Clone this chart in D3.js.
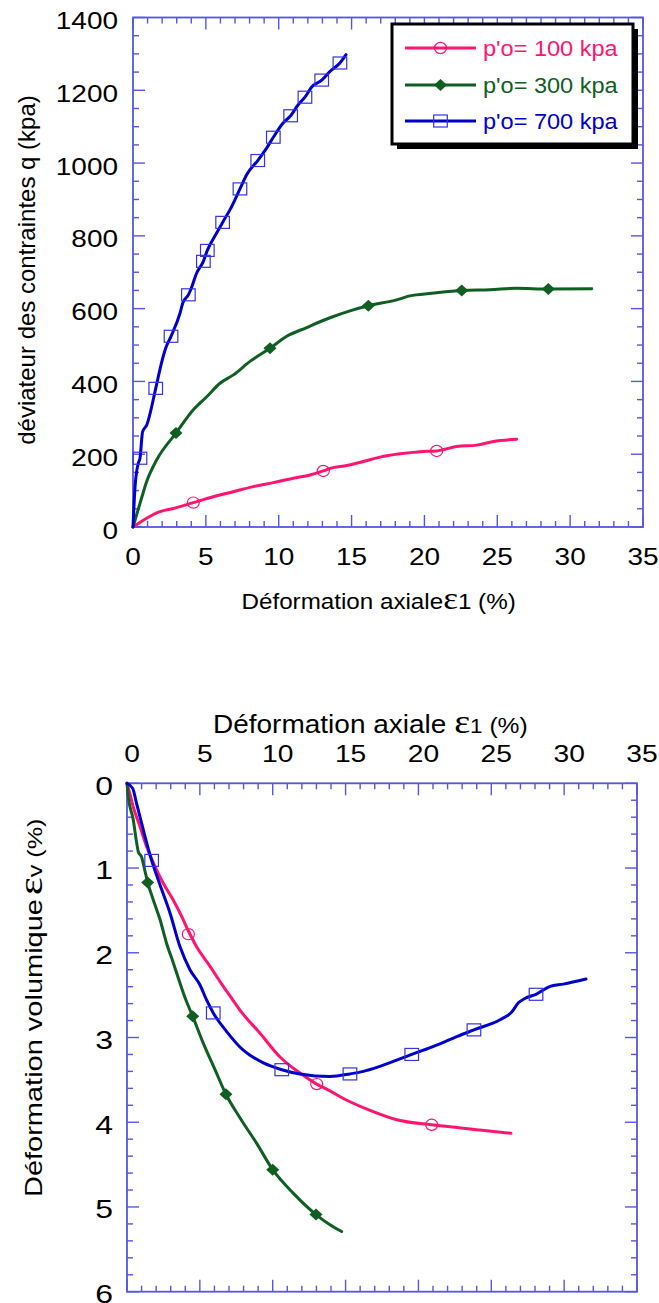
<!DOCTYPE html>
<html>
<head>
<meta charset="utf-8">
<script src="https://cdn.jsdelivr.net/npm/d3@7"></script>
<style>
  body { margin: 0; background: #fff; }
  svg { display: block; }
  text { font-weight: 400; }
</style>
</head>
<body>
<svg id="chart" width="659" height="1303"></svg>
<script>
// ---- Series labels and colours ----
const seriesNames = ["p'o= 100 kpa", "p'o= 300 kpa", "p'o= 700 kpa"];
const seriesColors = ["#ff1470", "#0f5f23", "#0000cc"];

// ---- Deviator stress q (kPa) vs axial strain ε1 (%) ----
const eps100q = [0, 0.94, 1.85, 2.77, 4.14, 5.51, 6.88, 8.26, 9.63, 11.0, 12.15, 13.06, 13.52, 14.67, 15.81, 16.95, 18.32, 19.7, 20.84, 22.2, 23.59, 24.73, 26.33];
const q100 = [0, 24, 42, 51, 67, 83, 97, 111, 122, 134, 143, 154, 161, 169, 180, 192, 201, 207, 209, 221, 225, 235, 241];
const eps300q = [0, 0.48, 0.94, 1.62, 2.95, 4.14, 5.06, 5.97, 6.89, 8.03, 9.4, 10.55, 11.92, 12.83, 13.52, 14.89, 16.15, 18.1, 19.0, 20.5, 22.56, 24.5, 26.33, 28.5, 31.48];
const q300 = [0, 65, 125, 184, 258, 322, 358, 395, 418, 455, 491, 524, 548, 564, 575, 594, 608, 624, 635, 642, 650, 652, 656, 654, 655];
const eps700q = [0, 0.14, 0.36, 0.48, 0.66, 0.94, 1.56, 1.92, 2.24, 2.61, 3.23, 3.41, 3.8, 3.96, 4.37, 4.83, 5.1, 5.74, 6.15, 6.66, 7.34, 7.8, 8.56, 9.17, 9.63, 10.3, 10.82, 11.35, 11.8, 12.26, 12.95, 13.52, 14.2, 14.62];
const q700 = [0, 110, 175, 189, 262, 280, 381, 445, 491, 524, 588, 615, 638, 652, 698, 730, 760, 808, 837, 872, 929, 968, 1007, 1041, 1071, 1110, 1130, 1161, 1181, 1209, 1228, 1252, 1275, 1298];

// marker positions along each q curve
const marks100q = [[4.14, 67], [13.06, 154], [20.84, 209]];
const marks300q = [[2.95, 258], [9.4, 491], [16.15, 608], [22.56, 650], [28.5, 654]];
const marks700q = [[0.48, 189], [1.56, 381], [2.61, 524], [3.8, 638], [4.83, 730], [5.1, 760], [6.15, 837], [7.34, 929], [8.56, 1007], [9.63, 1071], [10.82, 1130], [11.8, 1181], [12.95, 1228], [14.2, 1275]];

// ---- Volumetric strain εv (%) vs axial strain ε1 (%) ----
const eps100v = [0, 0.22, 0.43, 0.89, 1.35, 1.92, 2.49, 3.18, 3.75, 4.21, 4.78, 5.7, 6.5, 7.07, 7.76, 9.13, 10.5, 11.87, 13.02, 13.93, 14.85, 16.68, 18.51, 20.91, 23.08, 24.68, 26.35];
const ev100 = [0, 0.14, 0.28, 0.51, 0.75, 0.98, 1.18, 1.38, 1.57, 1.74, 1.93, 2.16, 2.37, 2.51, 2.68, 2.95, 3.23, 3.42, 3.55, 3.63, 3.72, 3.86, 3.97, 4.03, 4.07, 4.10, 4.13];
const eps300v = [0, 0.09, 0.43, 0.67, 0.78, 1.0, 1.24, 1.42, 1.81, 2.27, 2.72, 3.18, 3.64, 4.05, 4.51, 5.24, 6.04, 6.79, 7.76, 8.9, 10.0, 11.42, 12.97, 13.93, 14.73];
const ev300 = [0, 0.16, 0.43, 0.71, 0.81, 0.87, 1.04, 1.17, 1.38, 1.61, 1.89, 2.12, 2.36, 2.56, 2.75, 3.07, 3.38, 3.67, 3.95, 4.25, 4.56, 4.84, 5.09, 5.21, 5.29];
const eps700v = [0, 0.39, 0.66, 1.12, 1.69, 2.27, 2.95, 3.64, 4.32, 5.01, 5.47, 5.92, 6.84, 7.98, 9.36, 10.62, 11.87, 13.93, 15.3, 16.22, 17.36, 19.54, 21.25, 22.63, 23.81, 25.6, 26.4, 26.86, 27.3, 28.07, 29.0, 29.95, 31.5];
const ev700 = [0, 0.06, 0.24, 0.55, 0.91, 1.2, 1.53, 1.93, 2.2, 2.38, 2.56, 2.71, 2.93, 3.15, 3.3, 3.38, 3.43, 3.46, 3.43, 3.4, 3.34, 3.2, 3.09, 2.99, 2.91, 2.79, 2.7, 2.59, 2.54, 2.49, 2.40, 2.37, 2.31];

const marks100v = [[4.21, 1.78], [13.02, 3.55], [20.91, 4.03]];
const marks300v = [[1.42, 1.17], [4.51, 2.75], [6.79, 3.67], [10.0, 4.56], [12.97, 5.09]];
const marks700v = [[1.69, 0.91], [5.92, 2.71], [10.62, 3.38], [15.3, 3.43], [19.54, 3.2], [23.81, 2.91], [28.07, 2.49]];

// ---- Tick values ----
const strainTicks = [0, 5, 10, 15, 20, 25, 30, 35];
const qTicks = [0, 200, 400, 600, 800, 1000, 1200, 1400];
const evTicks = [0, 1, 2, 3, 4, 5, 6];

// ---------------------------------------------------------------
const svg = d3.select("#chart");
const AXIS = "#5656e6";
const SANS = "'Liberation Sans', Arial, sans-serif";
const SERIF = "'Liberation Serif', 'Times New Roman', serif";

function zip(xs, ys) { return xs.map((x, i) => [x, ys[i]]); }

// text helper: optional horizontal stretch, rotation and styled parts
function label(g, o) {
  const t = g.append("text")
    .attr("x", 0).attr("y", 0)
    .attr("transform", `translate(${o.x},${o.y})` + (o.rot ? ` rotate(${o.rot})` : "") + ` scale(${o.sx || 1},1)`)
    .attr("font-family", o.family || SANS)
    .attr("font-size", o.size)
    .attr("fill", o.fill || "#000")
    .attr("text-anchor", o.anchor || "start");
  if (o.parts) {
    o.parts.forEach(p => {
      const s = t.append("tspan").text(p.text);
      if (p.size) s.attr("font-size", p.size);
      if (p.family) s.attr("font-family", p.family);
      if (p.dx) s.attr("dx", p.dx);
    });
  } else {
    t.text(o.text);
  }
  return t;
}

function drawFrame(g, x, y, xMinor, yMinor) {
  const [x0, x1] = x.range();
  const [y0, y1] = y.range();
  const yTop = Math.min(y0, y1), yBot = Math.max(y0, y1);
  const ticks = g.append("g").attr("stroke", AXIS).attr("stroke-width", 1.4);
  // horizontal axes (top and bottom) with inward ticks
  xMinor.forEach(v => {
    const len = strainTicks.includes(v) ? 12 : 6;
    ticks.append("line").attr("x1", x(v)).attr("x2", x(v)).attr("y1", yBot).attr("y2", yBot - len);
    ticks.append("line").attr("x1", x(v)).attr("x2", x(v)).attr("y1", yTop).attr("y2", yTop + len);
  });
  // vertical axes (left and right) with inward ticks
  yMinor.forEach(([v, major]) => {
    const len = major ? 12 : 6;
    ticks.append("line").attr("x1", x0).attr("x2", x0 + len).attr("y1", y(v)).attr("y2", y(v));
    ticks.append("line").attr("x1", x1).attr("x2", x1 - len).attr("y1", y(v)).attr("y2", y(v));
  });
  g.append("rect")
    .attr("x", x0).attr("y", yTop)
    .attr("width", x1 - x0).attr("height", yBot - yTop)
    .attr("fill", "none").attr("stroke", AXIS).attr("stroke-width", 1.8);
}

function drawMarker(g, kind, cx, cy, color) {
  if (kind === 0) {
    g.append("ellipse").attr("cx", cx).attr("cy", cy).attr("rx", 6).attr("ry", 5.6)
      .attr("fill", "none").attr("stroke", color).attr("stroke-width", 1.2);
  } else if (kind === 1) {
    g.append("path")
      .attr("d", `M${cx},${cy - 6}L${cx + 6.5},${cy}L${cx},${cy + 6}L${cx - 6.5},${cy}Z`)
      .attr("fill", color);
  } else {
    g.append("rect").attr("x", cx - 6.8).attr("y", cy - 6).attr("width", 13.6).attr("height", 12)
      .attr("fill", "none").attr("stroke", "#3434e2").attr("stroke-width", 1.2);
  }
}

function drawSeries(g, x, y, curves, marks) {
  const line = d3.line().curve(d3.curveMonotoneX).x(d => x(d[0])).y(d => y(d[1]));
  curves.forEach((c, i) => {
    g.append("path").datum(c).attr("d", line)
      .attr("fill", "none").attr("stroke", seriesColors[i])
      .attr("stroke-width", 3).attr("stroke-linejoin", "round").attr("stroke-linecap", "round");
  });
  marks.forEach((m, i) => {
    m.forEach(d => drawMarker(g, i, x(d[0]), y(d[1]), seriesColors[i]));
  });
}

const minorStrain = d3.range(0, 36, 1);

// ================= Chart 1: q vs ε1 =================
{
  const g = svg.append("g");
  const x = d3.scaleLinear().domain([0, 35]).range([133, 643]);
  const y = d3.scaleLinear().domain([0, 1400]).range([527, 17.5]);
  const yMinor = d3.range(0, 1401, 50).map(v => [v, v % 200 === 0]);
  drawFrame(g, x, y, minorStrain, yMinor);

  drawSeries(g, x, y,
    [zip(eps100q, q100), zip(eps300q, q300), zip(eps700q, q700)],
    [marks100q, marks300q, marks700q]);

  // tick labels
  qTicks.forEach(v => label(g, { x: 118, y: y(v) + 11.5, text: v, size: 23.5, sx: 1.19, anchor: "end" }));
  strainTicks.forEach(v => label(g, { x: x(v), y: 565, text: v, size: 23.5, sx: 1.19, anchor: "middle" }));

  // axis titles
  label(g, { x: 35, y: 270, text: "déviateur des contraintes q (kpa)", size: 24, rot: -90, anchor: "middle" });
  label(g, { x: 241.5, y: 609, size: 22, sx: 1.1, parts: [
    { text: "Déformation axiale" },
    { text: "ε", size: 32, family: SERIF },
    { text: "1 (%)" }
  ] });

  // legend
  const lg = g.append("g");
  lg.append("rect").attr("x", 397).attr("y", 29).attr("width", 241).attr("height", 120).attr("fill", "#000");
  lg.append("rect").attr("x", 392).attr("y", 24).attr("width", 241).attr("height", 120)
    .attr("fill", "#fff").attr("stroke", "#000").attr("stroke-width", 3);
  const rows = [48, 85, 121];
  seriesNames.forEach((name, i) => {
    lg.append("line").attr("x1", 405).attr("x2", 476).attr("y1", rows[i]).attr("y2", rows[i])
      .attr("stroke", seriesColors[i]).attr("stroke-width", 3);
    drawMarker(lg, i, 440.5, rows[i], seriesColors[i]);
    label(lg, { x: 483, y: rows[i] + 8, text: name, size: 22, sx: 1.07, fill: seriesColors[i] });
  });
}

// ================= Chart 2: εv vs ε1 =================
{
  const g = svg.append("g");
  const x = d3.scaleLinear().domain([0, 35]).range([127, 637]);
  const y = d3.scaleLinear().domain([0, 6]).range([783.3, 1291.7]);
  const yMinor = d3.range(0, 31, 1).map(k => [k / 5, k % 5 === 0]);
  drawFrame(g, x, y, minorStrain, yMinor);

  drawSeries(g, x, y,
    [zip(eps100v, ev100), zip(eps300v, ev300), zip(eps700v, ev700)],
    [marks100v, marks300v, marks700v]);

  evTicks.forEach(v => label(g, { x: 113, y: y(v) + 11.3, text: v, size: 25, sx: 1.28, anchor: "end" }));
  strainTicks.forEach(v => label(g, { x: x(v) + 5, y: 762, text: v, size: 23.5, sx: 1.2, anchor: "middle" }));

  // top title
  label(g, { x: 213, y: 733, size: 25, sx: 1.12, parts: [
    { text: "Déformation axiale " },
    { text: "ε", size: 34, family: SERIF },
    { text: "1", size: 20 },
    { text: " (%)", size: 22 }
  ] });

  // left title (rotated)
  label(g, { x: 41.5, y: 1197, size: 23, sx: 1.26, rot: -90, parts: [
    { text: "Déformation volumique" },
    { text: "ε", size: 34, family: SERIF, dx: 3 },
    { text: "v (%)", size: 20 }
  ] });
}
</script>
</body>
</html>
